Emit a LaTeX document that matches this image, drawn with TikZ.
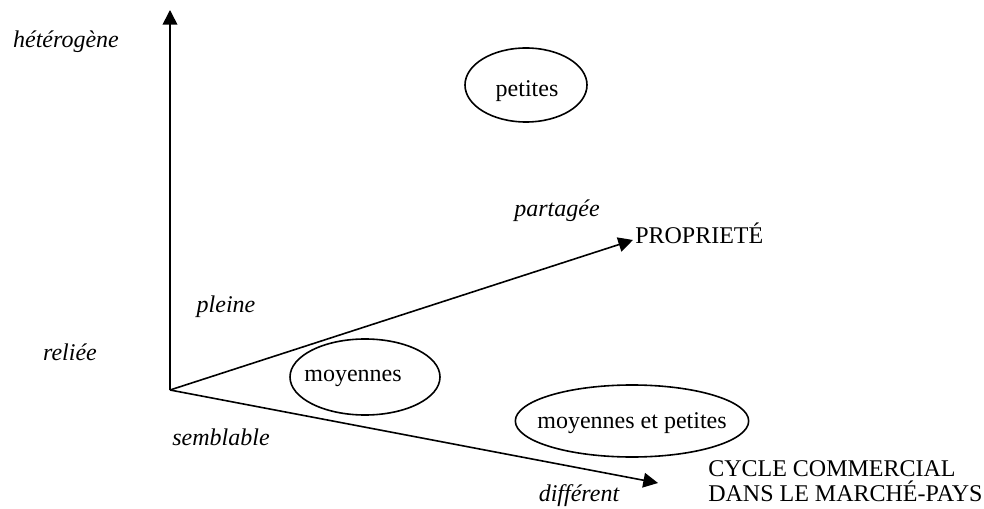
\documentclass[tikz,border=0pt]{standalone}
\usepackage{fontspec}
\setmainfont{Liberation Serif}
\usetikzlibrary{arrows.meta, shapes.geometric, positioning}

\begin{document}
\begin{tikzpicture}[x=0.75pt, y=-0.75pt,
    axis/.style={line width=1.2pt, -{Triangle[length=11pt, width=11pt]}},
    lbl/.style={font=\fontsize{18}{19}\selectfont\itshape, inner sep=0pt},
    group/.style={draw, line width=1.2pt, ellipse, inner sep=0pt},
    grouptext/.style={font=\fontsize{18}{19}\selectfont, inner sep=0pt},
    axisname/.style={font=\fontsize{18}{19}\selectfont, inner sep=0pt, align=left}]
    \useasboundingbox (0,0) rectangle (984,509);

    % Axes
    \coordinate (origin) at (170, 390);
    \coordinate (toptip) at (170, 10);
    \coordinate (proptip) at (633, 240);
    \coordinate (cycletip) at (658, 483);
    \draw[axis] (origin) -- (toptip);
    \draw[axis] (origin) -- (proptip);
    \draw[axis] (origin) -- (cycletip);

    % Axis names
    \node[axisname, anchor=west] (prop) at (635, 233) {PROPRIETÉ};
    \node[axisname, anchor=west] (cycle) at (708, 481) {CYCLE COMMERCIAL\\DANS LE MARCHÉ-PAYS};

    % Axis values
    \node[lbl] (heterogene) at (66, 42) {hétérogène};
    \node[lbl] (reliee) at (70, 352) {reliée};
    \node[lbl] (pleine) at (226, 307) {pleine};
    \node[lbl] (partagee) at (557, 211) {partagée};
    \node[lbl] (semblable) at (221, 437) {semblable};
    \node[lbl] (different) at (579, 496) {différent};

    % Groups
    \node[group, minimum width=91.5pt, minimum height=55.5pt] (petites) at (526, 85) {};
    \node[grouptext] (petitestext) at (527, 91) {petites};
    \node[group, minimum width=112.5pt, minimum height=57pt] (moyennes) at (365, 377) {};
    \node[grouptext] (moyennestext) at (353, 378) {moyennes};
    \node[group, minimum width=175pt, minimum height=54pt] (moypet) at (632, 421) {};
    \node[grouptext] (moypettext) at (632, 423) {moyennes et petites};
\end{tikzpicture}
\end{document}
